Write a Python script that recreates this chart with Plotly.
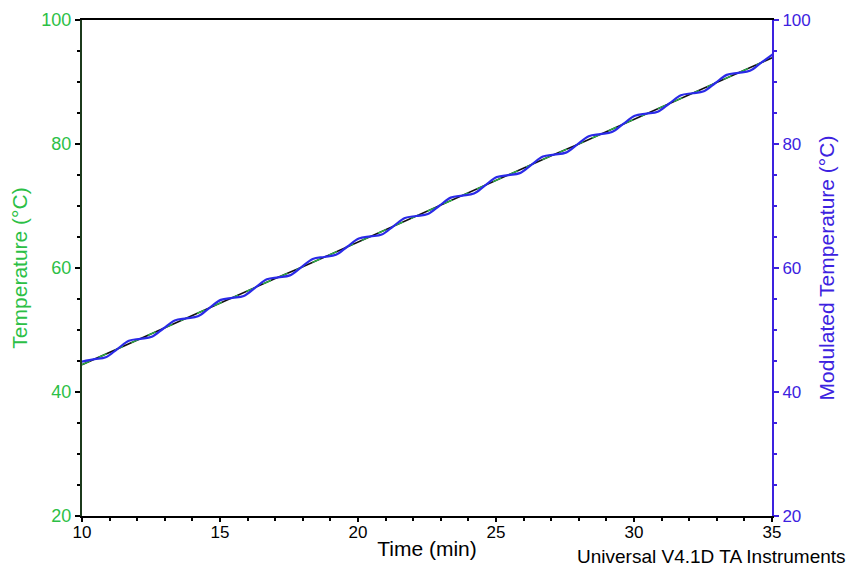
import plotly.graph_objects as go

# Temperature (averaged ramp), read at whole minutes
time_temp = list(range(10, 36))
temperature = [44.4, 46.4, 48.4, 50.3, 52.3, 54.3, 56.3, 58.3, 60.2, 62.2,
               64.2, 66.2, 68.2, 70.1, 72.1, 74.1, 76.1, 78.1, 80.0, 82.0,
               84.0, 86.0, 88.0, 89.9, 91.9, 93.9]

# Modulated temperature, read at quarter-period points (peak / mid / trough / mid)
time_mod = [10.00, 10.45, 10.86, 11.28, 11.70, 12.11, 12.53, 12.95, 13.36, 13.78,
            14.20, 14.61, 15.03, 15.45, 15.86, 16.28, 16.70, 17.11, 17.53, 17.95,
            18.36, 18.78, 19.20, 19.61, 20.03, 20.45, 20.86, 21.28, 21.70, 22.11,
            22.53, 22.95, 23.36, 23.78, 24.20, 24.61, 25.03, 25.45, 25.86, 26.28,
            26.70, 27.11, 27.53, 27.95, 28.36, 28.78, 29.20, 29.61, 30.03, 30.45,
            30.86, 31.28, 31.70, 32.11, 32.53, 32.95, 33.36, 33.78, 34.20, 34.61,
            35.03]
mod_temp = [44.90, 45.29, 45.60, 46.93, 48.27, 48.58, 48.91, 50.24, 51.55, 51.88,
            52.22, 53.53, 54.86, 55.19, 55.50, 56.83, 58.17, 58.48, 58.81, 60.14,
            61.45, 61.78, 62.12, 63.43, 64.76, 65.09, 65.40, 66.73, 68.07, 68.38,
            68.71, 70.04, 71.35, 71.68, 72.02, 73.33, 74.66, 74.99, 75.30, 76.63,
            77.97, 78.28, 78.61, 79.94, 81.25, 81.58, 81.92, 83.23, 84.56, 84.89,
            85.20, 86.53, 87.87, 88.18, 88.51, 89.84, 91.15, 91.48, 91.82, 93.13,
            94.46]

x_ticks = [10, 15, 20, 25, 30, 35]
y_ticks = [20, 40, 60, 80, 100]

GREEN = "#2cbf46"
BLUE = "#3c22e0"
FONT = "Liberation Sans, Arial, sans-serif"

fig = go.Figure()
fig.add_trace(go.Scatter(x=time_mod, y=mod_temp, mode="lines", yaxis="y2",
                         line=dict(color="#2a2ae8", width=2.2, shape="spline"),
                         name="Modulated Temperature"))
fig.add_trace(go.Scatter(x=time_temp, y=temperature, mode="lines",
                         line=dict(color="#111111", width=1.6), name="Temperature"))
fig.add_trace(go.Scatter(x=time_temp, y=temperature, mode="lines",
                         line=dict(color=GREEN, width=1.2, dash="dash"), name="Temperature"))

fig.update_layout(
    width=850, height=566,
    margin=dict(l=82, r=78, t=20, b=50),
    paper_bgcolor="white", plot_bgcolor="white",
    showlegend=False,
    font=dict(family=FONT, size=17, color="black"),
    xaxis=dict(range=[10, 35], tickvals=x_ticks, ticktext=[str(v) for v in x_ticks],
               ticks="outside", ticklen=4, tickwidth=1.5, tickcolor="black",
               showline=True, linecolor="black", linewidth=2, mirror=True,
               showgrid=False, zeroline=False, automargin=False,
               minor=dict(dtick=1, ticks="outside", ticklen=3, tickcolor="black", tickwidth=1.5),
               tickfont=dict(size=17, color="black"), ticklabelstandoff=-4,
               title=dict(text="Time (min)", font=dict(size=21, color="black"), standoff=0)),
    yaxis=dict(range=[20, 100], tickvals=y_ticks, ticks="outside", ticklen=5, tickwidth=1.5,
               tickcolor="black", showline=True, linecolor="#1c3a1c", linewidth=2,
               showgrid=False, zeroline=False, automargin=False,
               minor=dict(dtick=5, ticks="outside", ticklen=3, tickcolor="black", tickwidth=1.5),
               tickfont=dict(size=18, color=GREEN),
               title=dict(text="Temperature (°C)", font=dict(size=21, color=GREEN), standoff=8)),
    yaxis2=dict(range=[20, 100], tickvals=y_ticks, overlaying="y", side="right",
                ticks="outside", ticklen=5, tickwidth=1.5, tickcolor=BLUE,
                showline=True, linecolor=BLUE, linewidth=2,
                showgrid=False, zeroline=False, automargin=False,
                minor=dict(dtick=5, ticks="outside", ticklen=3, tickcolor=BLUE, tickwidth=1.5),
                tickfont=dict(size=17, color=BLUE),
                title=dict(text="Modulated Temperature (°C)", font=dict(size=21, color=BLUE), standoff=10)),
    annotations=[dict(text="Universal V4.1D TA Instruments", xref="paper", yref="paper",
                      x=(847 - 82) / 690, y=0, xanchor="right", yanchor="middle", yshift=-40,
                      borderpad=0, showarrow=False, font=dict(size=19, color="black"))],
)

fig.write_html("out.html", post_script="document.body.style.margin='0';",
               config={"displayModeBar": False})
